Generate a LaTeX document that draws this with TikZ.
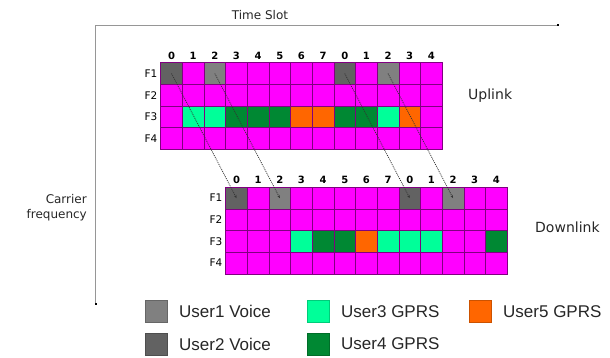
\documentclass[tikz,border=0pt]{standalone}
\usepackage{fontspec}
\setmainfont{DejaVu Sans}
\newfontfamily\legendfont{Liberation Sans}
\usetikzlibrary{arrows.meta}
\definecolor{cmag}{RGB}{255,0,255}
\definecolor{cgrid}{RGB}{128,0,128}
\definecolor{cuone}{RGB}{128,128,128}
\definecolor{cutwo}{RGB}{98,98,98}
\definecolor{cuthree}{RGB}{0,255,153}
\definecolor{cufour}{RGB}{0,136,51}
\definecolor{cufive}{RGB}{255,102,0}
\definecolor{caxis}{RGB}{150,150,150}
\begin{document}
\begin{tikzpicture}[x=1pt,y=-1pt,
  cell/.style={draw=cgrid, line width=0.6pt, fill=cmag, minimum width=21.65pt, minimum height=21.65pt, inner sep=0pt, outer sep=0pt},
  colnum/.style={font=\fontsize{10}{12}\selectfont\bfseries, inner sep=0pt},
  rowlab/.style={font=\fontsize{10.5}{12}\selectfont, inner sep=0pt},
  axistext/.style={font=\fontsize{12}{15}\selectfont, inner sep=0pt, text=black!85},
  linktext/.style={font=\fontsize{14}{16}\selectfont, inner sep=0pt, text=black!85, anchor=west},
  legsq/.style={minimum width=22pt, minimum height=22pt, inner sep=0pt, line width=0.6pt},
  legtext/.style={font=\legendfont\fontsize{17}{19}\selectfont, inner sep=0pt, anchor=west, text=black!85},
  axis/.style={draw=caxis, line width=0.8pt, -{Rectangle[length=1.6pt,width=2.4pt,black]}},
  link/.style={draw=black!80, line width=0.75pt, dash pattern=on 1pt off 1pt, -{Stealth[length=3pt,width=2.5pt]}},
  % uplink colour map
  cu-1-0/.style={fill=cutwo}, cu-1-2/.style={fill=cuone}, cu-1-8/.style={fill=cutwo}, cu-1-10/.style={fill=cuone},
  cu-3-1/.style={fill=cuthree}, cu-3-2/.style={fill=cuthree}, cu-3-3/.style={fill=cufour}, cu-3-4/.style={fill=cufour},
  cu-3-5/.style={fill=cufour}, cu-3-6/.style={fill=cufive}, cu-3-7/.style={fill=cufive}, cu-3-8/.style={fill=cufour},
  cu-3-9/.style={fill=cufour}, cu-3-10/.style={fill=cuthree}, cu-3-11/.style={fill=cufive},
  % downlink colour map
  cd-1-0/.style={fill=cutwo}, cd-1-2/.style={fill=cuone}, cd-1-8/.style={fill=cutwo}, cd-1-10/.style={fill=cuone},
  cd-3-3/.style={fill=cuthree}, cd-3-4/.style={fill=cufour}, cd-3-5/.style={fill=cufour}, cd-3-6/.style={fill=cufive},
  cd-3-7/.style={fill=cuthree}, cd-3-8/.style={fill=cuthree}, cd-3-9/.style={fill=cuthree}, cd-3-12/.style={fill=cufour}
]
\useasboundingbox (0,0) rectangle (610,357);

% axes
\coordinate (origin) at (95.7,25);
\coordinate (tend) at (559,25);
\coordinate (fend) at (95.7,305);
\draw[axis] (origin) -- (tend);
\draw[axis] (origin) -- (fend);
\node[axistext] (tslot) at (260,15) {Time Slot};
\node[axistext, align=right, anchor=east] (cfreq) at (87,207.5) {Carrier\\frequency};

% uplink grid
\foreach \r in {1,...,4}{
  \foreach \c in {0,...,12}{
    \node[cell, cu-\r-\c/.try] (u-\r-\c) at ({160.7+21.65*(\c+0.5)},{62.7+21.65*(\r-0.5)}) {};
  }
  \node[rowlab] (ul-\r) at (151,{62.7+21.65*(\r-0.5)}) {F\r};
}
\foreach \c [evaluate=\c as \n using {int(mod(\c,8))}] in {0,...,12}{
  \node[colnum] (uh-\c) at ({160.7+21.65*(\c+0.5)},55.5) {\n};
}

% downlink grid
\foreach \r in {1,...,4}{
  \foreach \c in {0,...,12}{
    \node[cell, cd-\r-\c/.try] (d-\r-\c) at ({225.7+21.65*(\c+0.5)},{187.3+21.65*(\r-0.5)}) {};
  }
  \node[rowlab] (dl-\r) at (216,{187.3+21.65*(\r-0.5)}) {F\r};
}
\foreach \c [evaluate=\c as \n using {int(mod(\c,8))}] in {0,...,12}{
  \node[colnum] (dh-\c) at ({225.7+21.65*(\c+0.5)},180) {\n};
}

% connectors
\foreach \c in {0,2,8,10}{
  \draw[link] (u-1-\c.center) -- (d-1-\c.center);
}

\node[linktext] (uplink) at (468,95.5) {Uplink};
\node[linktext] (downlink) at (535,227.5) {Downlink};

% legend
\node[legsq, fill=cuone, draw=cuone!80!black] (lg1) at (156,311.7) {};
\node[legtext] (lt1) at (179,311.7) {User1 Voice};
\node[legsq, fill=cutwo, draw=cutwo!80!black] (lg2) at (156,344) {};
\node[legtext] (lt2) at (179,344) {User2 Voice};
\node[legsq, fill=cuthree, draw=cuthree!80!black] (lg3) at (318,311.7) {};
\node[legtext] (lt3) at (341,311.7) {User3 GPRS};
\node[legsq, fill=cufour, draw=cufour!80!black] (lg4) at (318,344) {};
\node[legtext] (lt4) at (341,344) {User4 GPRS};
\node[legsq, fill=cufive, draw=cufive!80!black] (lg5) at (480,311.7) {};
\node[legtext] (lt5) at (503,311.7) {User5 GPRS};
\end{tikzpicture}
\end{document}
